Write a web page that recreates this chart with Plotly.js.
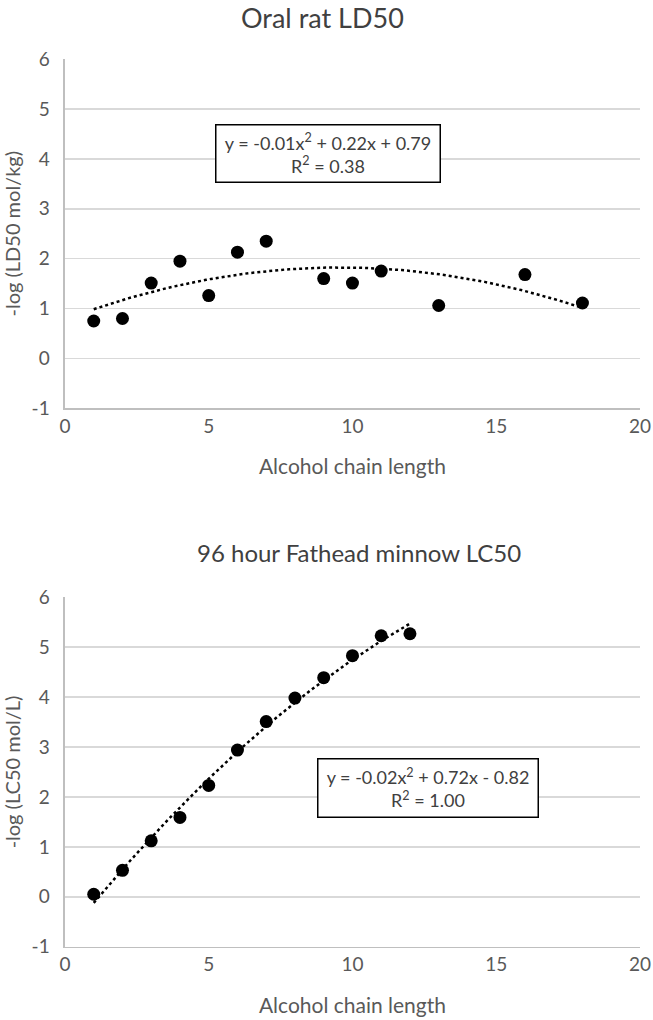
<!DOCTYPE html>
<html><head><meta charset="utf-8">
<script src="https://cdn.plot.ly/plotly-3.0.1.min.js"></script>
<style>html,body{margin:0;padding:0;background:#fff;}#chart{width:653px;height:1020px;}</style>
</head><body><div id="chart"></div>
<script>
// Oral rat LD50
const ratChain = [1, 2, 3, 4, 5, 6, 7, 9, 10, 11, 13, 16, 18];
const ratLD50 = [0.75, 0.80, 1.51, 1.95, 1.26, 2.13, 2.35, 1.60, 1.51, 1.75, 1.06, 1.68, 1.11];
// 96 hour Fathead minnow LC50
const fishChain = [1, 2, 3, 4, 5, 6, 7, 8, 9, 10, 11, 12];
const fishLC50 = [0.05, 0.53, 1.12, 1.59, 2.23, 2.94, 3.51, 3.98, 4.39, 4.83, 5.23, 5.27];
const yTickVals = [-1, 0, 1, 2, 3, 4, 5, 6];
const yTickText = ['-1', '0', '1', '2', '3', '4', '5', '6'];
const xTickVals = [0, 5, 10, 15, 20];
const ratEq = 'y = -0.01x<sup>2</sup> + 0.22x + 0.79<br>R<sup>2</sup> = 0.38';
const fishEq = 'y = -0.02x<sup>2</sup> + 0.72x - 0.82<br>R<sup>2</sup> = 1.00';

function quadFit(xs, ys) {
  let S = [[0,0,0],[0,0,0],[0,0,0]], T = [0,0,0];
  for (let i = 0; i < xs.length; i++) {
    const p = [xs[i]*xs[i], xs[i], 1];
    for (let r = 0; r < 3; r++) { T[r] += p[r]*ys[i]; for (let c = 0; c < 3; c++) S[r][c] += p[r]*p[c]; }
  }
  const M = S.map((row, i) => row.concat([T[i]]));
  for (let i = 0; i < 3; i++) {
    let piv = i; for (let k = i+1; k < 3; k++) if (Math.abs(M[k][i]) > Math.abs(M[piv][i])) piv = k;
    [M[i], M[piv]] = [M[piv], M[i]];
    for (let k = 0; k < 3; k++) if (k !== i) { const f = M[k][i]/M[i][i]; for (let c = i; c < 4; c++) M[k][c] -= f*M[i][c]; }
  }
  return [M[0][3]/M[0][0], M[1][3]/M[1][1], M[2][3]/M[2][2]];
}
function curve(xs, ys) {
  const [a, b, c] = quadFit(xs, ys);
  const x0 = Math.min(...xs), x1 = Math.max(...xs);
  const cx = [], cy = [];
  for (let i = 0; i <= 100; i++) { const x = x0 + (x1 - x0)*i/100; cx.push(x); cy.push(a*x*x + b*x + c); }
  return {cx, cy};
}
const rc = curve(ratChain, ratLD50), fc = curve(fishChain, fishLC50);

const FONT = 'Lato, "Liberation Sans", sans-serif';
const grey = '#595959';
const lineStyle = {color: 'black', width: 2.5, dash: 'dot'};
const markerStyle = {color: 'black', size: 13};

const traces = [
  {x: rc.cx, y: rc.cy, mode: 'lines', line: lineStyle, xaxis: 'x', yaxis: 'y', hoverinfo: 'skip'},
  {x: ratChain, y: ratLD50, mode: 'markers', marker: markerStyle, xaxis: 'x', yaxis: 'y'},
  {x: fc.cx, y: fc.cy, mode: 'lines', line: lineStyle, xaxis: 'x2', yaxis: 'y2', hoverinfo: 'skip'},
  {x: fishChain, y: fishLC50, mode: 'markers', marker: markerStyle, xaxis: 'x2', yaxis: 'y2'}
];

function xax(anchor) {
  return {domain: [0.0995, 0.98], range: [0, 20], tickmode: 'array', tickvals: xTickVals, anchor: anchor,
    showgrid: false, zeroline: false, showline: true, linecolor: '#bfbfbf', linewidth: 1.5,
    ticks: '', tickfont: {family: FONT, size: 19, color: grey},
    title: {text: 'Alcohol chain length', font: {family: FONT, size: 21, color: grey}, standoff: 24}};
}
function yax(anchor, dom, title) {
  return {domain: dom, range: [-1, 6], tickmode: 'array', tickvals: yTickVals, ticktext: yTickText, anchor: anchor,
    showgrid: true, gridcolor: '#d9d9d9', gridwidth: 1.5, zeroline: false,
    showline: true, linecolor: '#bfbfbf', linewidth: 1.5, ticks: '',
    ticklabelstandoff: 10,
    tickfont: {family: FONT, size: 19, color: grey},
    title: {text: title, font: {family: FONT, size: 20, color: grey}, standoff: 8}};
}

const layout = {
  width: 653, height: 1020, showlegend: false,
  paper_bgcolor: 'white', plot_bgcolor: 'white',
  margin: {l: 0, r: 0, t: 0, b: 0},
  font: {family: FONT, color: grey},
  xaxis: xax('y'),
  yaxis: yax('x', [0.5998, 0.9419], '-log (LD50 mol/kg)'),
  xaxis2: xax('y2'),
  yaxis2: yax('x2', [0.0719, 0.4144], '-log (LC50 mol/L)'),
  annotations: [
    {text: 'Oral rat LD50', xref: 'paper', yref: 'paper', x: 322/653, y: 1 - 17/1020, xanchor: 'center', yanchor: 'middle',
     showarrow: false, font: {family: FONT, size: 27, color: '#404040'}},
    {text: '96 hour Fathead minnow LC50', xref: 'paper', yref: 'paper', x: 359/653, y: 1 - 552/1020, xanchor: 'center', yanchor: 'middle',
     showarrow: false, font: {family: FONT, size: 24, color: '#404040'}},
    {text: ratEq, xref: 'paper', yref: 'paper', x: 327.5/653, y: 1 - 153/1020, xanchor: 'center', yanchor: 'middle',
     showarrow: false, width: 221, height: 54, bordercolor: 'black', borderwidth: 1.5, bgcolor: 'white',
     font: {family: FONT, size: 18, color: '#404040'}},
    {text: fishEq, xref: 'paper', yref: 'paper', x: 427.5/653, y: 1 - 787.5/1020, xanchor: 'center', yanchor: 'middle',
     showarrow: false, width: 217, height: 55, bordercolor: 'black', borderwidth: 1.5, bgcolor: 'white',
     font: {family: FONT, size: 18, color: '#404040'}}
  ]
};
Plotly.newPlot('chart', traces, layout, {displayModeBar: false, staticPlot: true});
</script></body></html>
